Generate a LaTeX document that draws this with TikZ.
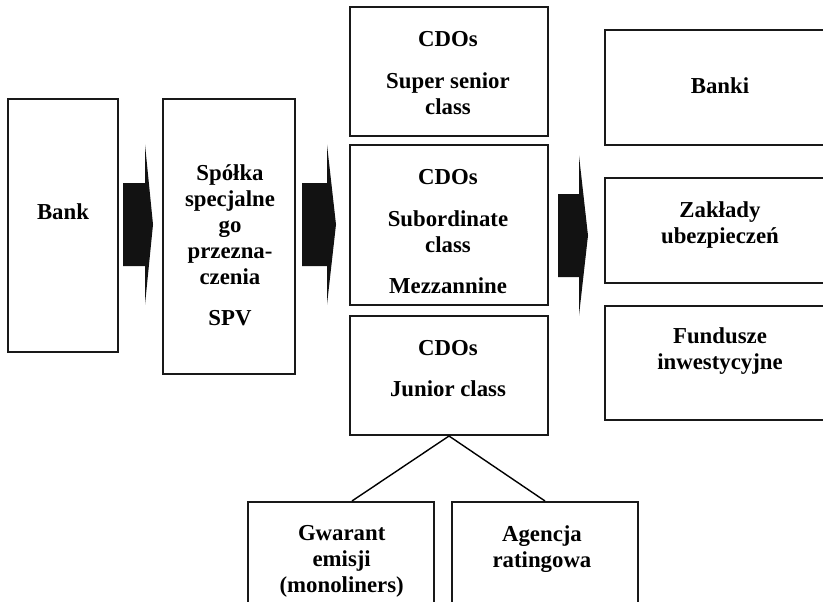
\documentclass[tikz,border=0pt]{standalone}
\usepackage{fontspec}
\setmainfont{Liberation Serif}
\begin{document}
\begin{tikzpicture}[x=1pt,y=-1pt,
  box/.style={draw=black!90,line width=2pt,inner sep=0pt},
  txt/.style={font=\fontsize{22.8}{26}\selectfont\bfseries,align=center,inner sep=0pt}]
\useasboundingbox (0,0) rectangle (823,602);
\clip (0,0) rectangle (823,602);
% boxes
\node[box,minimum width=110pt,minimum height=253pt] (bank) at (63,225.5) {};
\node[box,minimum width=132pt,minimum height=275pt] (spv) at (229,236.5) {};
\node[box,minimum width=198pt,minimum height=129pt] (senior) at (449,71.5) {};
\node[box,minimum width=198pt,minimum height=160pt] (sub) at (449,225) {};
\node[box,minimum width=198pt,minimum height=119pt] (junior) at (449,375.5) {};
\node[box,minimum width=235pt,minimum height=115pt] (banki) at (722.5,87.5) {};
\node[box,minimum width=235pt,minimum height=105pt] (zaklady) at (722.5,230.5) {};
\node[box,minimum width=235pt,minimum height=114pt] (fundusze) at (722.5,363) {};
\node[box,minimum width=186pt,minimum height=118pt] (gwarant) at (341,561) {};
\node[box,minimum width=186pt,minimum height=118pt] (agencja) at (545,561) {};
% texts
\node[txt,anchor=base] (bank-t) at (63,219) {Bank};
\node[txt] (spv-t) at (230,245.5) {Spółka\\specjalne\\go\\przezna-\\czenia\\[15pt]SPV};
\node[txt] (senior-t) at (448,73.2) {CDOs\\[16pt]Super senior\\class};
\node[txt] (sub-t) at (448,231.3) {CDOs\\[16pt]Subordinate\\class\\[15pt]Mezzannine};
\node[txt] (junior-t) at (448,368.2) {CDOs\\[15pt]Junior class};
\node[txt,anchor=base] (banki-t) at (720,93.3) {Banki};
\node[txt] (zaklady-t) at (720,225.5) {Zakłady\\ubezpieczeń};
\node[txt] (fundusze-t) at (720,351) {Fundusze\\inwestycyjne};
\node[txt] (gwarant-t) at (341.7,561.5) {Gwarant\\emisji\\(monoliners)};
\node[txt] (agencja-t) at (542,549.3) {Agencja\\ratingowa};
% block arrows
\foreach \xa/\xb/\xc/\ym in {123/145/153/224.5,302/327/336/224.5,558/579/588/235.5} {
  \fill[black!93] (\xa,\ym-41.5) -- (\xb,\ym-41.5) -- (\xb,\ym-80) -- (\xc,\ym)
    -- (\xb,\ym+80) -- (\xb,\ym+41.5) -- (\xa,\ym+41.5) -- cycle;
}
% links to the junior class
\draw[line width=1.4pt] (junior.south) -- ([xshift=11pt]gwarant.north);
\draw[line width=1.4pt] (junior.south) -- (agencja.north);
\end{tikzpicture}
\end{document}
